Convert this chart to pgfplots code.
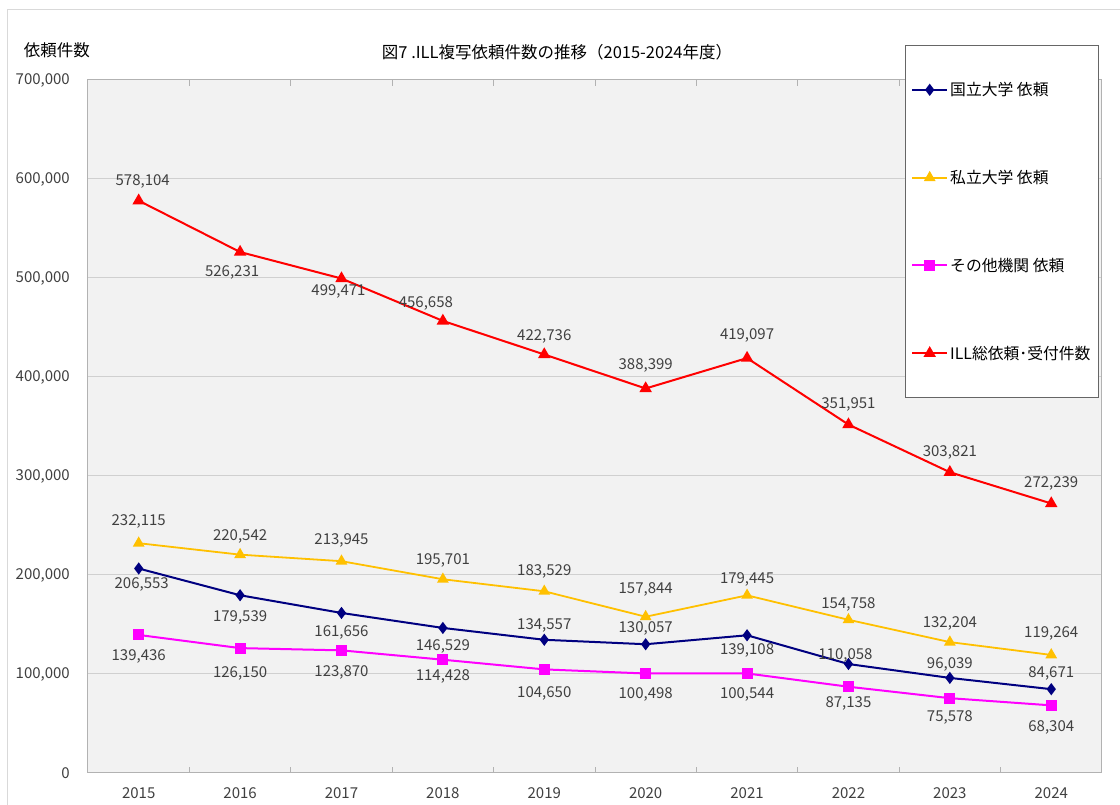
\documentclass[border=0pt]{standalone}
\usepackage{fontspec}
\setmainfont{Noto Sans CJK JP}
\usepackage{pgfplots}
\pgfplotsset{compat=1.18}
\usepackage{pgfplotstable}
\definecolor{cnavy}{HTML}{000080}
\definecolor{cyel}{HTML}{FFC000}
\definecolor{cmag}{HTML}{FF00FF}
\definecolor{cred}{HTML}{FF0000}
\definecolor{bg}{HTML}{F2F2F2}
\definecolor{gridc}{HTML}{D0D0D0}
\definecolor{txt}{HTML}{404040}
\newcommand{\myfont}{\fontsize{15}{18}\selectfont}
\newcommand{\legfont}{\fontsize{15.8}{18}\selectfont}
\newcommand{\titfont}{\fontsize{16.5}{19}\selectfont}

\pgfplotstableread{
x y dy dx
0 206553 -16 3
1 179539 -22 0
2 161656 -20 0
3 146529 -19 0
4 134557 14 0
5 130057 16 0
6 139108 -15 0
7 110058 9 -3
8 96039 13 0
9 84671 16 0
}\tabnavy
\pgfplotstableread{
x y dy dx
0 232115 22 0
1 220542 18 0
2 213945 21 0
3 195701 19 0
4 183529 20 0
5 157844 27 0
6 179445 16 0
7 154758 15 0
8 132204 19 0
9 119264 21 0
}\tabyel
\pgfplotstableread{
x y dy dx
0 139436 -22 0
1 126150 -25 0
2 123870 -22 0
3 114428 -17 0
4 104650 -24 0
5 100498 -21 0
6 100544 -21 0
7 87135 -17 0
8 75578 -19 0
9 68304 -22 0
}\tabmag
\pgfplotstableread{
x y dy dx
0 578104 19 4
1 526231 -20 -8
2 499471 -13 -3
3 456658 17 -17
4 422736 18 0
5 388399 23 0
6 419097 23 0
7 351951 20 0
8 303821 20 0
9 272239 20 0
}\tabred

\begin{document}
\begin{tikzpicture}[x=1pt,y=1pt]
\useasboundingbox (-88,-32) rectangle (1032,773);
\fill[white] (-88,-32) rectangle (1032,773);
\draw[gray!30, line width=1pt] (-80,-32) -- (-80,763) -- (1032,763);
\begin{axis}[
  at={(0,0)}, anchor=south west,
  scale only axis, width=1014pt, height=693pt,
  xmin=-0.5, xmax=9.5, ymin=0, ymax=700000,
  xtick={0,...,9},
  xticklabels={2015,2016,2017,2018,2019,2020,2021,2022,2023,2024},
  minor xtick={0.5,1.5,...,8.5},
  major tick length=0pt, minor tick length=6pt, tick align=inside,
  minor tick style={draw=gray!60, line width=0.8pt},
  ytick={0,100000,...,700000},
  scaled y ticks=false,
  /pgf/number format/.cd, fixed, precision=0, 1000 sep={,}, assume math mode=true,
  /pgfplots/.cd,
  ymajorgrids, grid style={draw=gridc, line width=1pt},
  axis background/.style={fill=bg},
  axis line style={draw=gray!60, line width=1pt},
  tick label style={font=\myfont, text=txt},
  xticklabel style={anchor=center, yshift=-20pt},
  yticklabel style={anchor=east, inner sep=0pt, xshift=-18pt},
  clip=false,
  nodes near coords,
  visualization depends on={\thisrow{dy} \as \dy},
  visualization depends on={\thisrow{dx} \as \dx},
  every node near coord/.append style={font=\myfont, text=txt, anchor=center, inner sep=0pt, xshift={\dx*1pt}, yshift={\dy*1pt}},
  legend image code/.code={\draw[mark repeat=2,mark phase=2,#1] plot coordinates {(0pt,0pt) (17.5pt,0pt) (35pt,0pt)};},
  legend cell align=left,
  legend style={at={(0.997,1.0505)}, anchor=north east, font=\legfont, text=black,
    draw=gray!80!black, line width=0.8pt, fill=white, inner xsep=6pt, inner ysep=35pt, row sep=69pt},
]
\addplot[cnavy, line width=2pt, mark=diamond*, mark size=4.5pt, mark options={solid, fill=cnavy}] table[x=x,y=y] {\tabnavy};
\addlegendentry{国立大学 依頼}
\addplot[cyel, line width=1.8pt, mark=triangle*, mark size=5pt, mark options={solid, fill=cyel}] table[x=x,y=y] {\tabyel};
\addlegendentry{私立大学 依頼}
\addplot[cmag, line width=2pt, mark=square*, mark size=4.5pt, mark options={solid, fill=cmag}] table[x=x,y=y] {\tabmag};
\addlegendentry{その他機関 依頼}
\addplot[cred, line width=2pt, mark=triangle*, mark size=5.2pt, mark options={solid, fill=cred}] table[x=x,y=y] {\tabred};
\addlegendentry{ILL総依頼･受付件数}
\end{axis}
\node[font=\titfont, text=black] at (469,721) {図7 .ILL複写依頼件数の推移（2015-2024年度）};
\node[font=\titfont, text=black] at (-31,723) {依頼件数};
\end{tikzpicture}
\end{document}
